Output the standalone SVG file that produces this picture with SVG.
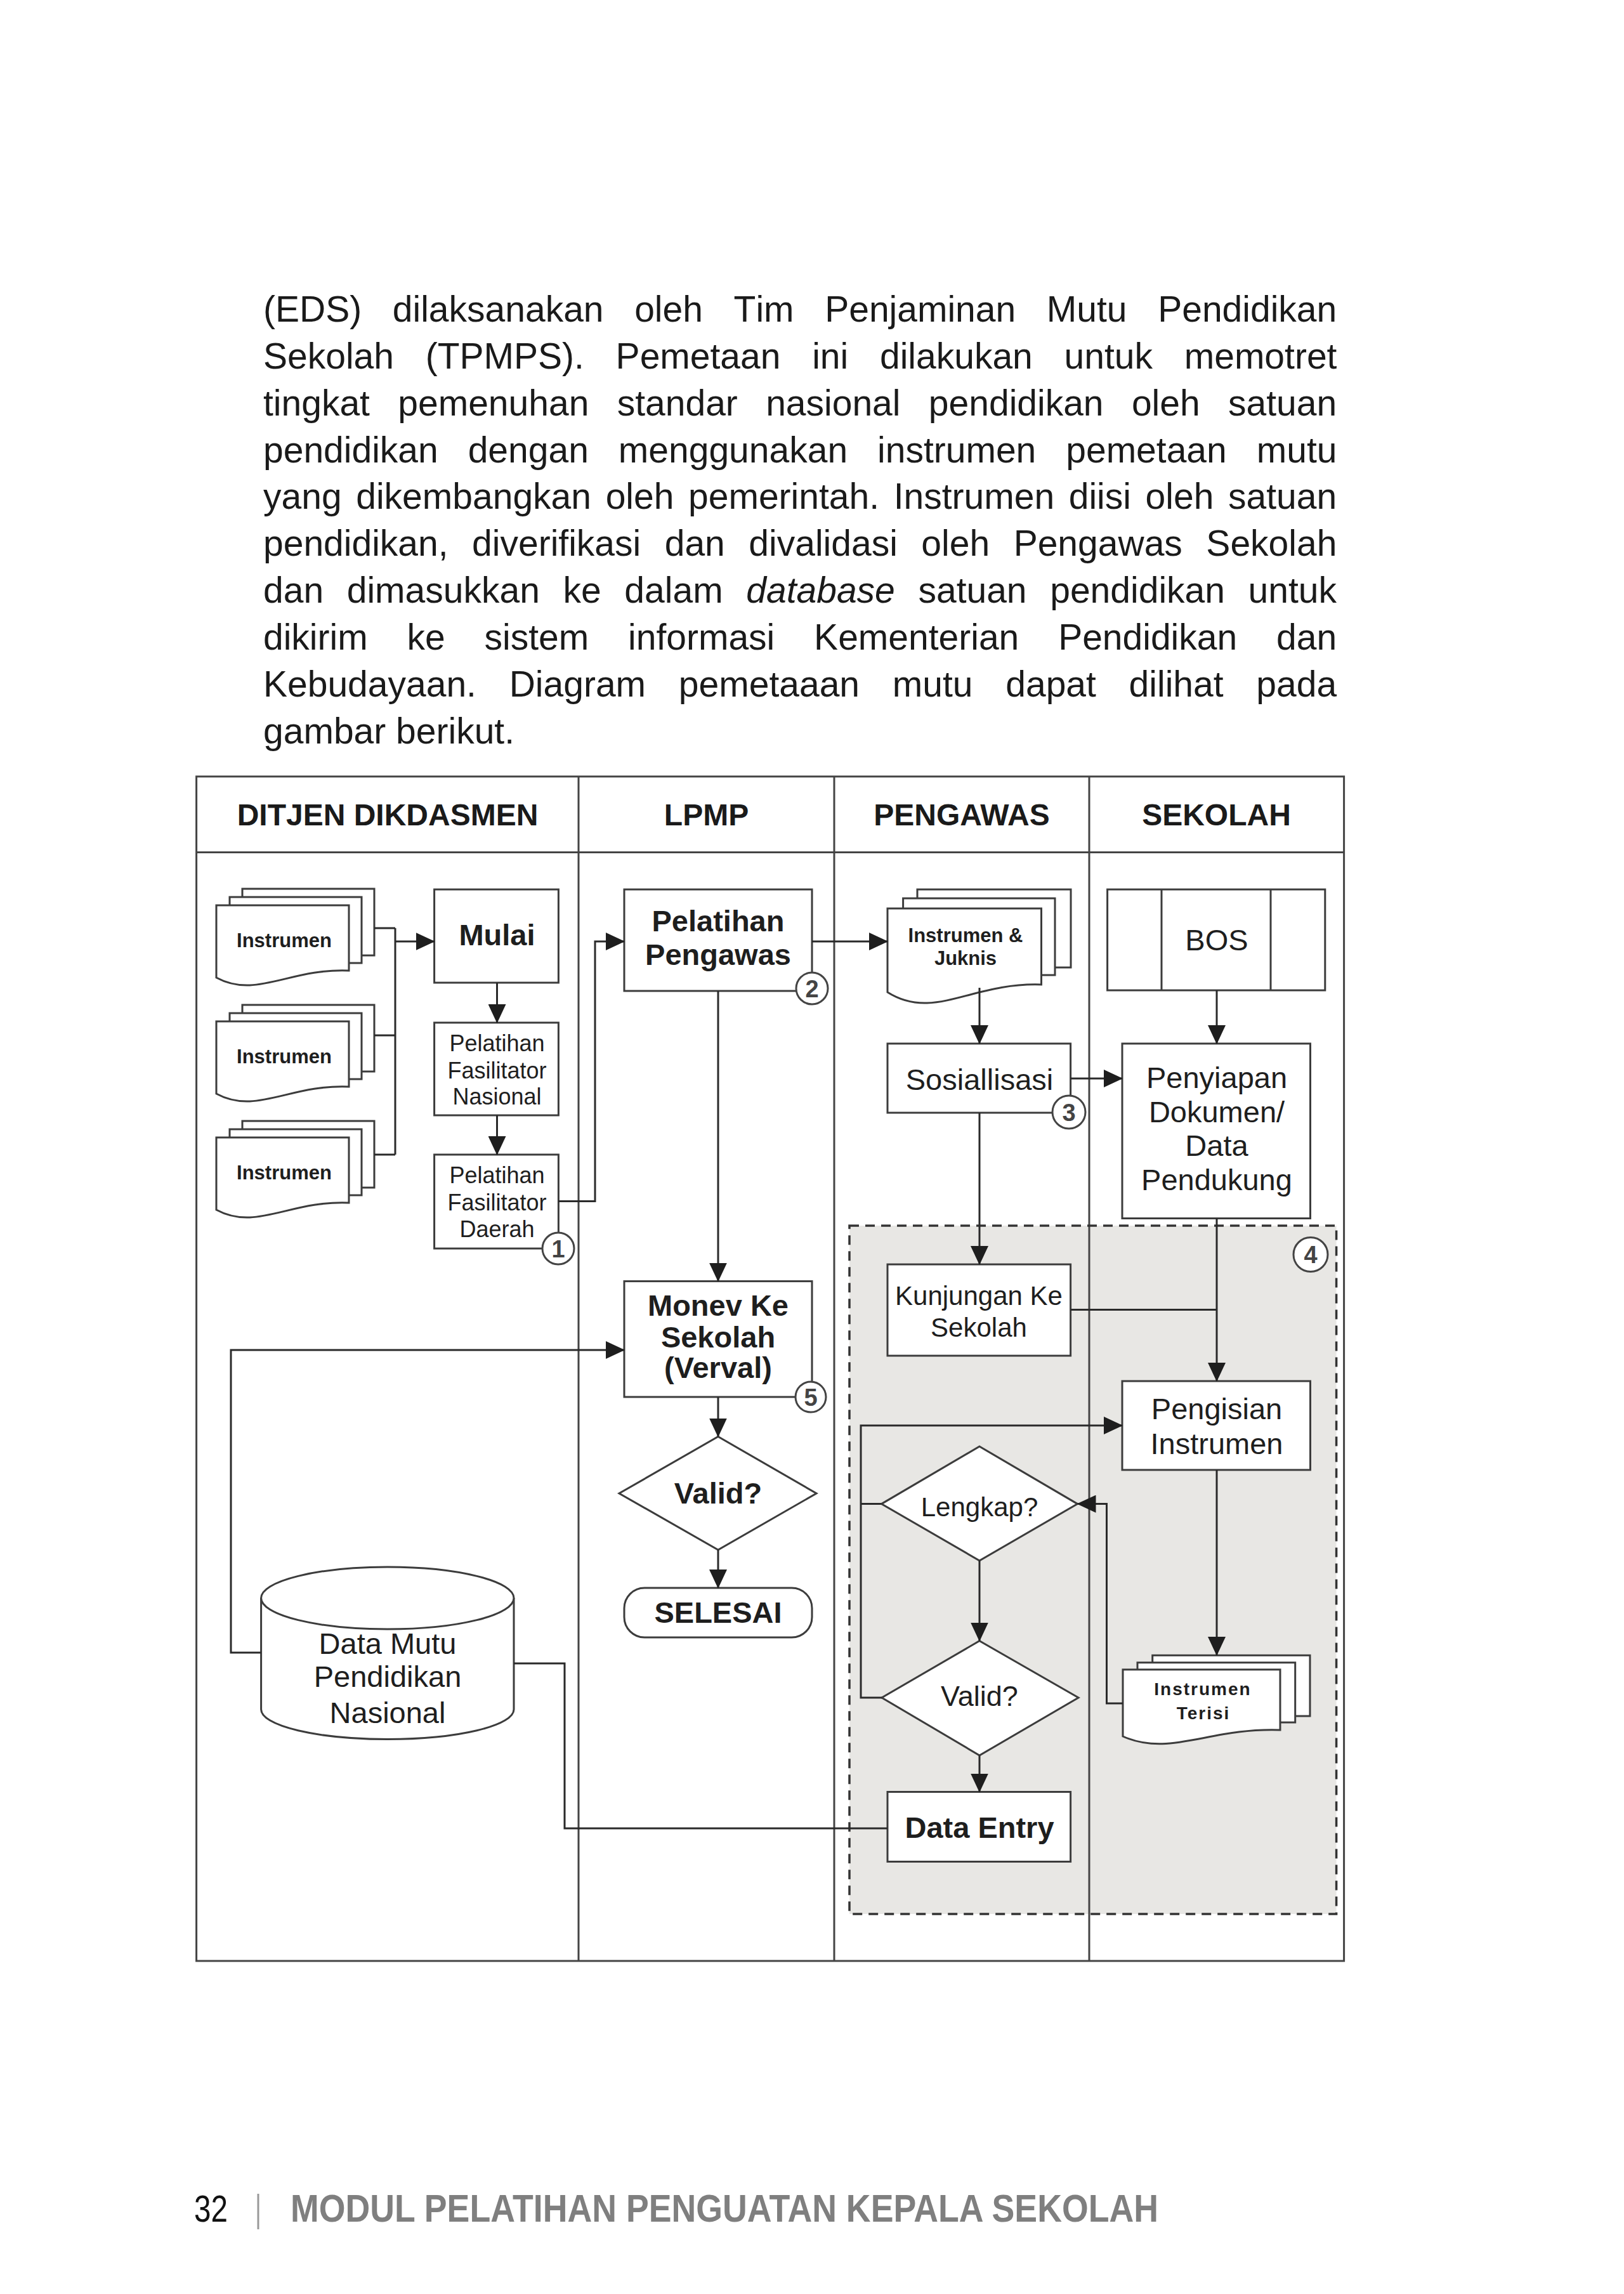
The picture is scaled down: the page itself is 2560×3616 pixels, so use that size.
<svg xmlns="http://www.w3.org/2000/svg" width="2560" height="3616" viewBox="0 0 2560 3616">
<defs>
<style>
.body{font-family:"Liberation Sans",Arial,sans-serif;font-size:57px;fill:#1a1a1a;font-kerning:none}
.t{font-family:"Liberation Sans",Arial,sans-serif;fill:#1e1e1e;text-anchor:middle}
.b{font-weight:bold}
.hd{font-family:"Liberation Sans",Arial,sans-serif;font-weight:bold;font-size:48px;fill:#1a1a1a;text-anchor:middle}
.box{fill:#fff;stroke:#3c3c3c;stroke-width:3}
.ln{fill:none;stroke:#2a2a2a;stroke-width:3}
.ar{marker-end:url(#ah)}
.frame{fill:none;stroke:#444;stroke-width:3}
.num circle{fill:#fff;stroke:#444;stroke-width:3}
.num text{font-family:"Liberation Sans",Arial,sans-serif;font-weight:bold;font-size:38px;fill:#444;text-anchor:middle}
</style>
<marker id="ah" viewBox="0 0 30 28" refX="29" refY="14" markerWidth="30" markerHeight="28" markerUnits="userSpaceOnUse" orient="auto"><path d="M0,0 L30,14 L0,28 Z" fill="#1e1e1e"/></marker>
</defs>
<rect width="2560" height="3616" fill="#fff"/>

<g id="paragraph" class="body">
<text x="415" y="507" word-spacing="32.8">(EDS) dilaksanakan oleh Tim Penjaminan Mutu Pendidikan</text>
<text x="415" y="580.85" word-spacing="33.9">Sekolah (TPMPS). Pemetaan ini dilakukan untuk memotret</text>
<text x="415" y="654.7" word-spacing="28.5">tingkat pemenuhan standar nasional pendidikan oleh satuan</text>
<text x="415" y="728.55" word-spacing="31.1">pendidikan dengan menggunakan instrumen pemetaan mutu</text>
<text x="415" y="802.4" word-spacing="6.8">yang dikembangkan oleh pemerintah. Instrumen diisi oleh satuan</text>
<text x="415" y="876.25" word-spacing="21.7">pendidikan, diverifikasi dan divalidasi oleh Pengawas Sekolah</text>
<text x="415" y="950.1" word-spacing="20.8">dan dimasukkan ke dalam <tspan font-style="italic">database</tspan> satuan pendidikan untuk</text>
<text x="415" y="1023.95" word-spacing="46">dikirim ke sistem informasi Kementerian Pendidikan dan</text>
<text x="415" y="1097.8" word-spacing="35.9">Kebudayaan. Diagram pemetaaan mutu dapat dilihat pada</text>
<text x="415" y="1171.65">gambar berikut.</text>
</g>

<g id="region4-bg">
<rect x="1339" y="1932" width="767.6" height="1085" fill="#e8e7e4"/>
</g>

<g id="frame">
<rect class="frame" x="309.6" y="1224" width="1809" height="1867"/>
<line class="frame" x1="309.6" y1="1343.5" x2="2118.6" y2="1343.5"/>
<line class="frame" x1="912" y1="1224" x2="912" y2="3091"/>
<line class="frame" x1="1315" y1="1224" x2="1315" y2="3091"/>
<line class="frame" x1="1717" y1="1224" x2="1717" y2="3091"/>
<text class="hd" x="611" y="1301">DITJEN DIKDASMEN</text>
<text class="hd" x="1113.5" y="1301">LPMP</text>
<text class="hd" x="1516" y="1301">PENGAWAS</text>
<text class="hd" x="1917.5" y="1301">SEKOLAH</text>
</g>

<g id="region4-border">
<rect x="1339" y="1932" width="767.6" height="1085" fill="none" stroke="#333" stroke-width="3.5" stroke-dasharray="15 10"/>
</g>

<g id="doc-instrumen-1">
<rect class="box" x="382" y="1401" width="208" height="105"/>
<rect class="box" x="362" y="1414" width="208" height="104"/>
<path class="box" d="M341,1427 H550 V1530 C456,1526 404,1575 341,1541 Z"/>
<text class="t b" x="448" y="1493" font-size="31">Instrumen</text>
</g>
<g id="doc-instrumen-2">
<rect class="box" x="382" y="1584" width="208" height="105"/>
<rect class="box" x="362" y="1597" width="208" height="104"/>
<path class="box" d="M341,1610 H550 V1713 C456,1709 404,1758 341,1724 Z"/>
<text class="t b" x="448" y="1676" font-size="31">Instrumen</text>
</g>
<g id="doc-instrumen-3">
<rect class="box" x="382" y="1767" width="208" height="105"/>
<rect class="box" x="362" y="1780" width="208" height="104"/>
<path class="box" d="M341,1793 H550 V1896 C456,1892 404,1941 341,1907 Z"/>
<text class="t b" x="448" y="1859" font-size="31">Instrumen</text>
</g>

<g id="mulai">
<rect class="box" x="684.6" y="1402" width="195.8" height="147"/>
<text class="t b" x="783.5" y="1490" font-size="47">Mulai</text>
</g>
<g id="pelatihan-fasilitator-nasional">
<rect class="box" x="684.6" y="1612" width="195.8" height="146"/>
<text class="t" x="783.5" y="1657" font-size="36">Pelatihan</text>
<text class="t" x="783.5" y="1699.6" font-size="36">Fasilitator</text>
<text class="t" x="783.5" y="1741.4" font-size="36">Nasional</text>
</g>
<g id="pelatihan-fasilitator-daerah">
<rect class="box" x="684.6" y="1820" width="195.8" height="148"/>
<text class="t" x="783.5" y="1865.4" font-size="36">Pelatihan</text>
<text class="t" x="783.5" y="1907.8" font-size="36">Fasilitator</text>
<text class="t" x="783.5" y="1949.6" font-size="36">Daerah</text>
</g>

<g id="data-mutu">
<path class="box" d="M411.6,2519 L411.6,2694.5 A199.2,47 0 0 0 810,2694.5 L810,2519"/>
<ellipse class="box" cx="610.8" cy="2519" rx="199.2" ry="49"/>
<text class="t" x="611" y="2607" font-size="47">Data Mutu</text>
<text class="t" x="611" y="2659" font-size="47">Pendidikan</text>
<text class="t" x="611" y="2715.5" font-size="47">Nasional</text>
</g>

<g id="pelatihan-pengawas">
<rect class="box" x="984" y="1402" width="296" height="160"/>
<text class="t b" x="1132" y="1467.5" font-size="47">Pelatihan</text>
<text class="t b" x="1132" y="1521" font-size="47">Pengawas</text>
</g>
<g id="monev">
<rect class="box" x="984" y="2019.6" width="296" height="182.4"/>
<text class="t b" x="1132" y="2073.7" font-size="47">Monev Ke</text>
<text class="t b" x="1132" y="2124" font-size="47">Sekolah</text>
<text class="t b" x="1132" y="2172" font-size="47">(Verval)</text>
</g>
<g id="valid-lpmp">
<polygon class="box" points="1132,2264.5 1287,2354 1132,2443 976,2354"/>
<text class="t b" x="1132" y="2369.7" font-size="47">Valid?</text>
</g>
<g id="selesai">
<rect class="box" x="984" y="2503" width="296" height="78" rx="32" ry="32"/>
<text class="t b" x="1132" y="2557.7" font-size="47">SELESAI</text>
</g>

<g id="doc-instrumen-juknis">
<rect class="box" x="1446" y="1402" width="242" height="123"/>
<rect class="box" x="1423.6" y="1416" width="239.4" height="121"/>
<path class="box" d="M1399,1432 H1641.5 V1552 C1532,1548 1472,1610 1399,1564 Z"/>
<text class="t b" x="1522" y="1485" font-size="31">Instrumen &amp;</text>
<text class="t b" x="1522" y="1521" font-size="31">Juknis</text>
</g>
<g id="sosialisasi">
<rect class="box" x="1399" y="1645" width="288.6" height="109"/>
<text class="t" x="1544" y="1717.5" font-size="47">Sosiallisasi</text>
</g>
<g id="kunjungan">
<rect class="box" x="1399" y="1993" width="288.6" height="144"/>
<text class="t" x="1543" y="2057" font-size="42">Kunjungan Ke</text>
<text class="t" x="1543" y="2106.6" font-size="42">Sekolah</text>
</g>
<g id="lengkap">
<polygon class="box" points="1544,2280 1698.5,2370.6 1544,2460 1389.5,2370.6"/>
<text class="t" x="1544" y="2389.8" font-size="42">Lengkap?</text>
</g>
<g id="valid-pengawas">
<polygon class="box" points="1544,2586.5 1700,2676 1544,2767 1390,2676"/>
<text class="t" x="1544" y="2689" font-size="45">Valid?</text>
</g>
<g id="data-entry">
<rect class="box" x="1399" y="2824.5" width="288.6" height="110"/>
<text class="t b" x="1544" y="2897" font-size="47">Data Entry</text>
</g>

<g id="bos">
<rect class="box" x="1745.6" y="1402" width="343.2" height="159"/>
<line class="box" x1="1831" y1="1402" x2="1831" y2="1561"/>
<line class="box" x1="2003" y1="1402" x2="2003" y2="1561"/>
<text class="t" x="1918" y="1498" font-size="47">BOS</text>
</g>
<g id="penyiapan">
<rect class="box" x="1769" y="1645" width="296.5" height="275.5"/>
<text class="t" x="1918" y="1715" font-size="47">Penyiapan</text>
<text class="t" x="1918" y="1768.5" font-size="47">Dokumen/</text>
<text class="t" x="1918" y="1822" font-size="47">Data</text>
<text class="t" x="1918" y="1875.6" font-size="47">Pendukung</text>
</g>
<g id="pengisian">
<rect class="box" x="1769" y="2177" width="296.5" height="140"/>
<text class="t" x="1918" y="2236.7" font-size="47">Pengisian</text>
<text class="t" x="1918" y="2292" font-size="47">Instrumen</text>
</g>
<g id="doc-instrumen-terisi">
<rect class="box" x="1816.7" y="2609.3" width="248.3" height="95.7"/>
<rect class="box" x="1793" y="2620.7" width="248.7" height="94.3"/>
<path class="box" d="M1770,2631.7 H2018 V2727 C1906,2723 1844,2770 1770,2737 Z"/>
<text class="t b" x="1896" y="2671.7" font-size="28" letter-spacing="2">Instrumen</text>
<text class="t b" x="1897" y="2710" font-size="28" letter-spacing="2">Terisi</text>
</g>

<g id="connectors" class="ln">
<path d="M590,1463 H623 M590,1632 H623 M590,1820 H623 M623,1463 V1820"/>
<path class="ar" d="M623,1484 H684.6"/>
<path class="ar" d="M783.5,1549 V1612"/>
<path class="ar" d="M783.5,1758 V1820"/>
<path class="ar" d="M880,1893.5 H938 V1484 H984"/>
<path class="ar" d="M1280,1484 H1399"/>
<path class="ar" d="M1132,1562 V2019.6"/>
<path class="ar" d="M1132,2202 V2264.5"/>
<path class="ar" d="M1132,2443 V2503"/>
<path class="ar" d="M411.6,2605 H364 V2128 H984"/>
<path d="M1399,2882 H890 V2622 H810"/>
<path class="ar" d="M1544,1557 V1645"/>
<path class="ar" d="M1687.6,1700 H1769"/>
<path class="ar" d="M1918,1561 V1645"/>
<path class="ar" d="M1544,1754 V1993"/>
<path d="M1687.6,2064.5 H1918"/>
<path class="ar" d="M1918,1920.5 V2177"/>
<path class="ar" d="M1918,2317 V2609"/>
<path class="ar" d="M1770,2685 H1744.5 V2370.6 H1698.5"/>
<path class="ar" d="M1544,2460 V2586.5"/>
<path class="ar" d="M1544,2767 V2824.5"/>
<path d="M1389.5,2370.6 H1357"/>
<path class="ar" d="M1390,2676 H1357 V2247 H1769"/>
</g>

<g id="markers" class="num">
<g id="num1"><circle cx="880" cy="1968" r="25"/><text x="880" y="1981.5">1</text></g>
<g id="num2"><circle cx="1280" cy="1558" r="25"/><text x="1280" y="1571.5">2</text></g>
<g id="num3"><circle cx="1685" cy="1753" r="26"/><text x="1685" y="1766.5">3</text></g>
<g id="num4"><circle cx="2066" cy="1977.5" r="27"/><text x="2066" y="1991">4</text></g>
<g id="num5"><circle cx="1278" cy="2202" r="24"/><text x="1278" y="2215.5">5</text></g>
</g>

<g id="footer">
<text x="306" y="3502" font-family="Liberation Sans, Arial, sans-serif" font-size="60" fill="#111" textLength="53" lengthAdjust="spacingAndGlyphs">32</text>
<line x1="407" y1="3458" x2="407" y2="3514" stroke="#999" stroke-width="3"/>
<text x="458" y="3502" font-family="Liberation Sans, Arial, sans-serif" font-weight="bold" font-size="61" fill="#7f7f7f" textLength="1368" lengthAdjust="spacingAndGlyphs">MODUL PELATIHAN PENGUATAN KEPALA SEKOLAH</text>
</g>
</svg>
